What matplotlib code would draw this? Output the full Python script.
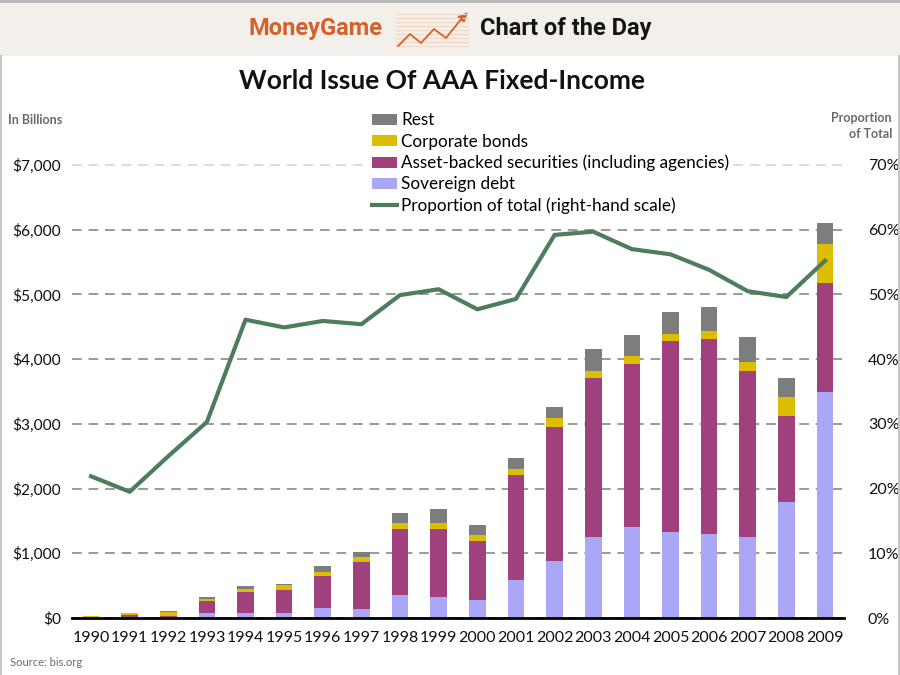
import matplotlib
matplotlib.use('Agg')
import matplotlib.pyplot as plt
from matplotlib.patches import Rectangle, Patch
from matplotlib.lines import Line2D
import numpy as np

plt.rcParams['font.family'] = ['Lato', 'DejaVu Sans']

years = [str(y) for y in range(1990, 2010)]
sovereign = [5, 10, 10, 80, 70, 80, 160, 134, 355, 330, 273, 587, 886, 1247, 1411, 1324, 1293, 1247, 1798, 3488]
asset_backed = [10, 35, 20, 180, 337, 351, 494, 736, 1021, 1046, 917, 1623, 2071, 2457, 2515, 2962, 3025, 2571, 1329, 1694]
corporate = [12, 25, 70, 35, 41, 72, 62, 78, 97, 97, 88, 98, 129, 118, 128, 99, 123, 144, 284, 594]
rest = [5, 5, 8, 35, 46, 20, 88, 72, 154, 212, 159, 160, 180, 331, 320, 349, 371, 386, 293, 324]
proportion = [21.9, 19.5, 25.0, 30.3, 46.1, 44.9, 45.9, 45.4, 49.9, 50.8, 47.7, 49.3, 59.2, 59.7, 57.0, 56.2, 53.8, 50.5, 49.6, 55.2]

left_ticks = [0, 1000, 2000, 3000, 4000, 5000, 6000, 7000]
left_labels = ['$0', '$1,000', '$2,000', '$3,000', '$4,000', '$5,000', '$6,000', '$7,000']
right_ticks = [0, 10, 20, 30, 40, 50, 60, 70]
right_labels = ['0%', '10%', '20%', '30%', '40%', '50%', '60%', '70%']

C_SOV = '#a9a7f6'
C_ABS = '#a0407c'
C_CORP = '#dcbd00'
C_REST = '#7d7d7d'
C_LINE = '#4e7d5e'

W, H = 900, 675
fig = plt.figure(figsize=(9, 6.75), dpi=100)
fig.patch.set_facecolor('white')

def fx(px):
    return px / W

def fy(py):
    return 1 - py / H

# header band
fig.add_artist(Rectangle((0, fy(56)), 1, 56 / H, transform=fig.transFigure,
                         facecolor='#f3f0ec', edgecolor='none', zorder=0))
fig.add_artist(Line2D([0, 1], [fy(1), fy(1)], transform=fig.transFigure, color='#b5b5b5', lw=2))
# frame
fig.add_artist(Line2D([fx(1), fx(1)], [fy(56), 0], transform=fig.transFigure, color='#c8c8c8', lw=1.5))
fig.add_artist(Line2D([fx(899), fx(899)], [fy(56), 0], transform=fig.transFigure, color='#c8c8c8', lw=1.5))

# header icon
for yy in range(14, 50, 4):
    fig.add_artist(Line2D([fx(396), fx(468)], [fy(yy), fy(yy)], transform=fig.transFigure,
                          color='#f1d9c8', lw=0.8))
zx = [398, 410, 421, 434, 446, 462]
zy = [46, 34, 43, 29, 38, 18]
fig.add_artist(Line2D([fx(v) for v in zx], [fy(v) for v in zy], transform=fig.transFigure,
                      color='#d4612a', lw=1.3))
fig.add_artist(matplotlib.patches.Polygon([[fx(467), fy(13)], [fx(458), fy(17)], [fx(464), fy(22)]],
                                          closed=True, transform=fig.transFigure, color='#d4612a'))
fig.text(fx(248), fy(29), 'MoneyGame', color='#d4612a', fontsize=17, fontweight='bold',
         ha='left', va='center', family=['Roboto', 'DejaVu Sans'])
fig.text(fx(480), fy(29), 'Chart of the Day', color='#151515', fontsize=17, fontweight='bold',
         ha='left', va='center', family=['Roboto', 'DejaVu Sans'])

# title
fig.text(fx(442), fy(81), 'World Issue Of AAA Fixed-Income', fontsize=19, fontweight='bold',
         ha='center', va='center', color='#111111')
fig.text(fx(8), fy(120), 'In Billions', fontsize=9, fontweight='bold', color='#6a6a6a',
         ha='left', va='center')
fig.text(fx(892), fy(126), 'Proportion\nof Total', fontsize=9, fontweight='bold', color='#6a6a6a',
         ha='right', va='center', linespacing=1.3)
fig.text(fx(10), fy(663), 'Source: bis.org', fontsize=8, color='#6a6a6a', ha='left', va='center')

# axes
ax_left, ax_right = 71.7, 844.3
y0_px = 618.0
px_per_k = (618.0 - 165.0) / 7.0
ymax = 7500
top_px = y0_px - px_per_k * ymax / 1000
ax = fig.add_axes([fx(ax_left), 1 - y0_px / H, (ax_right - ax_left) / W, (y0_px - top_px) / H])
x = np.arange(len(years))
bw = 0.43
b1 = np.array(sovereign)
b2 = b1 + np.array(asset_backed)
b3 = b2 + np.array(corporate)
ax.bar(x, sovereign, bw, color=C_SOV, zorder=3)
ax.bar(x, asset_backed, bw, bottom=b1, color=C_ABS, zorder=3)
ax.bar(x, corporate, bw, bottom=b2, color=C_CORP, zorder=3)
ax.bar(x, rest, bw, bottom=b3, color=C_REST, zorder=3)
ax.set_xlim(-0.5, len(years) - 0.5)
ax.set_ylim(0, ymax)
ax.set_yticks(left_ticks)
ax.set_yticklabels(left_labels)
ax.set_xticks(x)
ax.set_xticklabels(years)
for s in ['top', 'left', 'right']:
    ax.spines[s].set_visible(False)
ax.spines['bottom'].set_color('black')
ax.spines['bottom'].set_linewidth(2)
ax.spines['bottom'].set_zorder(5)
ax.tick_params(axis='y', length=0, pad=7.5, labelsize=11.2, labelcolor='#111111')
ax.tick_params(axis='x', length=0, pad=9, labelsize=11.5, labelcolor='#111111')
ax.yaxis.grid(True, linestyle=(0, (5, 3.5)), color='#9a9a9a', lw=1.4, zorder=0)
ax.set_axisbelow(True)
gl = ax.get_ygridlines()
gl[-1].set_alpha(0.35)
ax.patch.set_visible(False)

ax2 = ax.twinx()
ax2.plot(x, proportion, color=C_LINE, lw=3, solid_joinstyle='round', zorder=4)
ax2.set_ylim(0, ymax / 100)
ax2.set_yticks(right_ticks)
ax2.set_yticklabels(right_labels)
for s in ['top', 'left', 'right', 'bottom']:
    ax2.spines[s].set_visible(False)
ax2.tick_params(axis='y', length=0, pad=17, labelsize=11.5, labelcolor='#111111')

handles = [Patch(facecolor=C_REST), Patch(facecolor=C_CORP), Patch(facecolor=C_ABS),
           Patch(facecolor=C_SOV), Line2D([0], [0], color=C_LINE, lw=3)]
labels = ['Rest', 'Corporate bonds', 'Asset-backed securities (including agencies)',
          'Sovereign debt', 'Proportion of total (right-hand scale)']
leg = fig.legend(handles, labels, loc='upper left', bbox_to_anchor=(fx(369), fy(109)),
                 frameon=True, facecolor='white', edgecolor='none', framealpha=1,
                 fontsize=12.3, handlelength=1.45, handleheight=0.62, handletextpad=0.22,
                 labelspacing=0.3, borderpad=0.2, borderaxespad=0)

fig.savefig('out.png', dpi=100)
